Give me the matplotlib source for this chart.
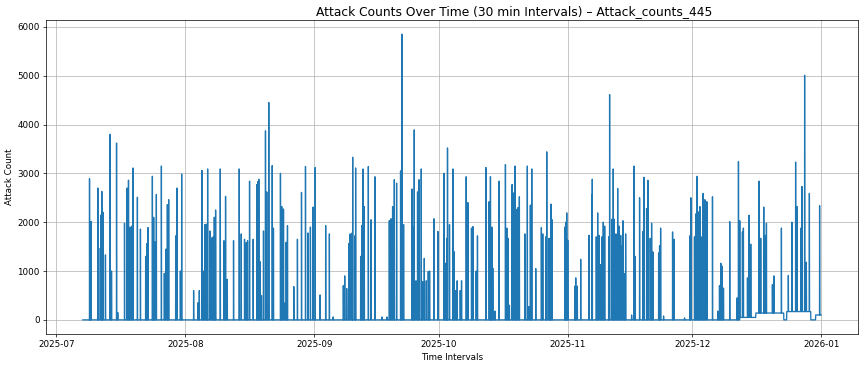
import matplotlib
matplotlib.use("Agg")
import matplotlib.pyplot as plt
import numpy as np
import pandas as pd

# series range (30 min steps)
start_time = "2025-07-07 08:00"
end_time = "2025-12-31 23:30"

# spike timestamps and their counts
spike_times = [
    "2025-07-08 23:00", "2025-07-09 02:00", "2025-07-09 08:00", "2025-07-10 23:00",
    "2025-07-11 04:00", "2025-07-11 18:00", "2025-07-11 22:00", "2025-07-12 05:00",
    "2025-07-12 19:00", "2025-07-13 22:00", "2025-07-14 06:00", "2025-07-15 11:00",
    "2025-07-15 18:00", "2025-07-17 09:00", "2025-07-17 23:30", "2025-07-18 08:00",
    "2025-07-18 17:00", "2025-07-19 03:00", "2025-07-19 10:00", "2025-07-20 11:30",
    "2025-07-21 05:00", "2025-07-22 11:00", "2025-07-22 17:00", "2025-07-23 01:00",
    "2025-07-24 02:00", "2025-07-24 09:30", "2025-07-24 15:30", "2025-07-25 01:00",
    "2025-07-26 06:00", "2025-07-26 23:00", "2025-07-27 08:30", "2025-07-27 16:30",
    "2025-07-28 00:00", "2025-07-29 16:30", "2025-07-30 00:00", "2025-07-30 19:30",
    "2025-07-31 03:00", "2025-08-03 00:00", "2025-08-04 01:00", "2025-08-04 09:00",
    "2025-08-05 00:00", "2025-08-05 08:00", "2025-08-05 17:30", "2025-08-06 01:00",
    "2025-08-06 09:00", "2025-08-06 22:00", "2025-08-07 09:30", "2025-08-07 17:30",
    "2025-08-07 23:30", "2025-08-08 07:00", "2025-08-09 10:00", "2025-08-10 07:00",
    "2025-08-10 16:30", "2025-08-11 02:30", "2025-08-12 14:30", "2025-08-13 23:30",
    "2025-08-14 11:00", "2025-08-15 06:00", "2025-08-15 16:00", "2025-08-15 23:30",
    "2025-08-16 11:00", "2025-08-17 08:00", "2025-08-18 05:00", "2025-08-18 11:00",
    "2025-08-18 16:30", "2025-08-19 00:30", "2025-08-19 08:00", "2025-08-19 19:30",
    "2025-08-20 07:00", "2025-08-20 14:30", "2025-08-21 02:00", "2025-08-21 22:00",
    "2025-08-22 05:00", "2025-08-23 21:30", "2025-08-24 05:00", "2025-08-24 15:00",
    "2025-08-25 01:00", "2025-08-25 06:30", "2025-08-25 14:00", "2025-08-27 02:30",
    "2025-08-27 23:30", "2025-08-28 23:00", "2025-08-29 22:00", "2025-08-30 13:00",
    "2025-08-31 02:30", "2025-08-31 18:00", "2025-09-01 06:00", "2025-09-02 10:30",
    "2025-09-03 18:30", "2025-09-04 16:00", "2025-09-05 13:30", "2025-09-08 00:30",
    "2025-09-08 08:30", "2025-09-08 20:00", "2025-09-09 07:30", "2025-09-09 15:30",
    "2025-09-10 03:00", "2025-09-10 06:30", "2025-09-10 19:00", "2025-09-10 23:30",
    "2025-09-12 04:30", "2025-09-12 10:30", "2025-09-12 18:30", "2025-09-13 01:30",
    "2025-09-14 01:00", "2025-09-14 16:30", "2025-09-15 15:30", "2025-09-17 08:00",
    "2025-09-18 12:30", "2025-09-19 02:00", "2025-09-19 12:00", "2025-09-19 21:00",
    "2025-09-20 07:00", "2025-09-20 20:00", "2025-09-21 19:00", "2025-09-22 03:00",
    "2025-09-22 12:30", "2025-09-24 13:00", "2025-09-24 18:30", "2025-09-25 02:00",
    "2025-09-25 12:00", "2025-09-25 21:00", "2025-09-26 05:30", "2025-09-26 18:30",
    "2025-09-27 02:00", "2025-09-27 12:00", "2025-09-27 23:30", "2025-09-28 11:00",
    "2025-09-28 18:30", "2025-09-29 19:30", "2025-09-30 18:30", "2025-10-02 05:30",
    "2025-10-02 13:00", "2025-10-02 22:30", "2025-10-03 02:00", "2025-10-03 13:30",
    "2025-10-04 09:00", "2025-10-04 15:00", "2025-10-05 02:30", "2025-10-05 10:00",
    "2025-10-06 03:30", "2025-10-06 11:00", "2025-10-07 14:00", "2025-10-07 23:30",
    "2025-10-08 20:30", "2025-10-09 04:30", "2025-10-09 23:30", "2025-10-10 07:00",
    "2025-10-12 07:30", "2025-10-13 02:30", "2025-10-13 10:00", "2025-10-13 18:00",
    "2025-10-13 23:30", "2025-10-14 13:00", "2025-10-15 12:00", "2025-10-17 00:30",
    "2025-10-17 08:30", "2025-10-17 16:00", "2025-10-17 23:30", "2025-10-18 15:00",
    "2025-10-19 01:00", "2025-10-19 08:30", "2025-10-19 16:00", "2025-10-20 01:30",
    "2025-10-20 09:00", "2025-10-21 16:30", "2025-10-22 07:00", "2025-10-22 15:30",
    "2025-10-23 00:30", "2025-10-23 08:30", "2025-10-24 07:30", "2025-10-25 16:00",
    "2025-10-26 00:00", "2025-10-26 17:30", "2025-10-26 23:00", "2025-10-27 12:30",
    "2025-10-27 18:00", "2025-10-28 00:00", "2025-10-28 06:00", "2025-10-31 07:00",
    "2025-10-31 12:30", "2025-10-31 18:30", "2025-11-01 00:30", "2025-11-02 16:30",
    "2025-11-02 22:30", "2025-11-03 07:30", "2025-11-04 03:00", "2025-11-06 03:00",
    "2025-11-06 18:30", "2025-11-06 22:00", "2025-11-07 21:00", "2025-11-08 05:00",
    "2025-11-08 12:30", "2025-11-08 22:30", "2025-11-09 06:00", "2025-11-09 13:30",
    "2025-11-09 21:30", "2025-11-10 20:30", "2025-11-11 02:00", "2025-11-11 15:30",
    "2025-11-11 23:00", "2025-11-12 05:00", "2025-11-12 14:30", "2025-11-13 00:30",
    "2025-11-13 08:00", "2025-11-13 18:00", "2025-11-13 23:30", "2025-11-14 07:00",
    "2025-11-14 14:30", "2025-11-14 22:30", "2025-11-16 09:00", "2025-11-16 22:30",
    "2025-11-17 06:00", "2025-11-18 07:00", "2025-11-19 02:00", "2025-11-19 08:00",
    "2025-11-19 23:30", "2025-11-20 07:00", "2025-11-20 20:30", "2025-11-21 04:30",
    "2025-11-21 12:00", "2025-11-22 21:00", "2025-11-23 02:30", "2025-11-23 08:30",
    "2025-11-24 01:30", "2025-11-26 05:30", "2025-11-26 14:30", "2025-11-29 02:30",
    "2025-11-30 09:00", "2025-11-30 15:00", "2025-12-01 12:00", "2025-12-01 19:30",
    "2025-12-02 03:30", "2025-12-02 11:30", "2025-12-02 19:00", "2025-12-03 02:30",
    "2025-12-03 14:00", "2025-12-04 00:00", "2025-12-04 11:30", "2025-12-05 20:00",
    "2025-12-07 02:30", "2025-12-07 12:30", "2025-12-07 20:00", "2025-12-08 03:30",
    "2025-12-08 11:30", "2025-12-09 23:30", "2025-12-11 18:00", "2025-12-12 02:00",
    "2025-12-12 09:30", "2025-12-13 01:00", "2025-12-13 06:30", "2025-12-14 06:00",
    "2025-12-14 15:00", "2025-12-15 01:00", "2025-12-17 00:30", "2025-12-17 10:30",
    "2025-12-18 04:00", "2025-12-18 11:30", "2025-12-18 19:30", "2025-12-20 06:00",
    "2025-12-20 15:00", "2025-12-22 10:00", "2025-12-24 02:00", "2025-12-24 23:00",
    "2025-12-25 20:00", "2025-12-26 04:00", "2025-12-27 03:00", "2025-12-27 08:30",
    "2025-12-28 00:00", "2025-12-28 10:00", "2025-12-29 03:30", "2025-12-31 14:30",
]
spike_counts = [
    2890, 430, 2015, 2700, 1470, 2150, 2630, 2200, 1330, 3800, 1000, 3620,
    150, 1980, 2700, 2860, 1900, 1920, 3110, 2510, 1860, 1300, 1560, 1890,
    2940, 2100, 1600, 2570, 3150, 950, 1450, 2360, 2460, 1720, 2700, 1000,
    2985, 600, 350, 600, 3060, 1000, 1950, 1960, 3090, 1820, 1680, 1700,
    2100, 2250, 3090, 1620, 2530, 830, 1620, 3090, 1760, 1650, 1580, 1620,
    2840, 1650, 2770, 2830, 2880, 1190, 500, 1820, 3870, 2620, 4450, 3160,
    1880, 3000, 2320, 2270, 350, 1590, 1930, 680, 1650, 2610, 3140, 1780,
    1900, 2310, 3120, 510, 1930, 1760, 60, 700, 900, 640, 1560, 1760,
    1780, 3330, 1720, 3110, 1300, 1930, 3090, 2320, 3140, 2050, 2930, 60,
    60, 2030, 2070, 2320, 2870, 2800, 3050, 5850, 1950, 2680, 1900, 3890,
    800, 2620, 2870, 3090, 780, 1260, 800, 990, 1000, 2070, 1810, 3000,
    1160, 1670, 3520, 1950, 3090, 1400, 600, 800, 600, 800, 2930, 2400,
    1880, 1910, 1000, 1720, 3120, 2420, 2930, 1900, 1060, 180, 2840, 3180,
    1880, 1670, 300, 2770, 2600, 3150, 2260, 2300, 2520, 1760, 3150, 270,
    2350, 3090, 1050, 1890, 1760, 1700, 3440, 1670, 1600, 2370, 2050, 1900,
    2000, 2190, 1630, 690, 860, 690, 1240, 1730, 2560, 2880, 1700, 2190,
    1730, 1130, 1700, 2000, 1920, 1700, 4610, 2060, 3090, 2060, 1760, 2690,
    1920, 1730, 1520, 2030, 950, 1760, 100, 3150, 1300, 2500, 1810, 2920,
    2280, 2860, 1670, 1980, 1390, 1370, 1520, 1880, 80, 1800, 1650, 40,
    1720, 2500, 1700, 2170, 2940, 2210, 2320, 1700, 2590, 2460, 2420, 2520,
    180, 700, 1160, 1100, 650, 2010, 450, 3240, 2030, 1800, 1880, 860,
    2140, 1550, 2840, 1670, 2310, 1730, 1980, 720, 900, 1880, 910, 2000,
    3230, 2320, 1880, 2730, 5010, 1180, 2590, 2340,
]

# raised baseline stretches in December
base_starts = ["2025-12-12 10:00", "2025-12-16 06:00", "2025-12-23 16:30", "2025-12-30 15:30"]
base_ends = ["2025-12-16 05:30", "2025-12-22 23:00", "2025-12-29 11:00", "2025-12-31 23:30"]
base_levels = [50, 140, 170, 100]

times = pd.date_range(start_time, end_time, freq="30min")
counts = pd.Series(0.0, index=times)
for s, e, lvl in zip(base_starts, base_ends, base_levels):
    counts.loc[s:e] = lvl
for t, v in zip(spike_times, spike_counts):
    counts.loc[pd.Timestamp(t)] = v

dpi = 63
fig, ax = plt.subplots(figsize=(865 / dpi, 368 / dpi), dpi=dpi)
fig.subplots_adjust(left=0.053, right=0.992, top=0.946, bottom=0.092)
ax.plot(counts.index, counts.values, color="#1f77b4", linewidth=1.5)

# title sits right of centre in the source image
ax.set_title("Attack Counts Over Time (30 min Intervals) \u2013 Attack_counts_445",
             fontsize=14, x=0.576)
ax.set_xlabel("Time Intervals")
ax.set_ylabel("Attack Count")
ax.grid(True)

plt.savefig("out.png", dpi=dpi)
